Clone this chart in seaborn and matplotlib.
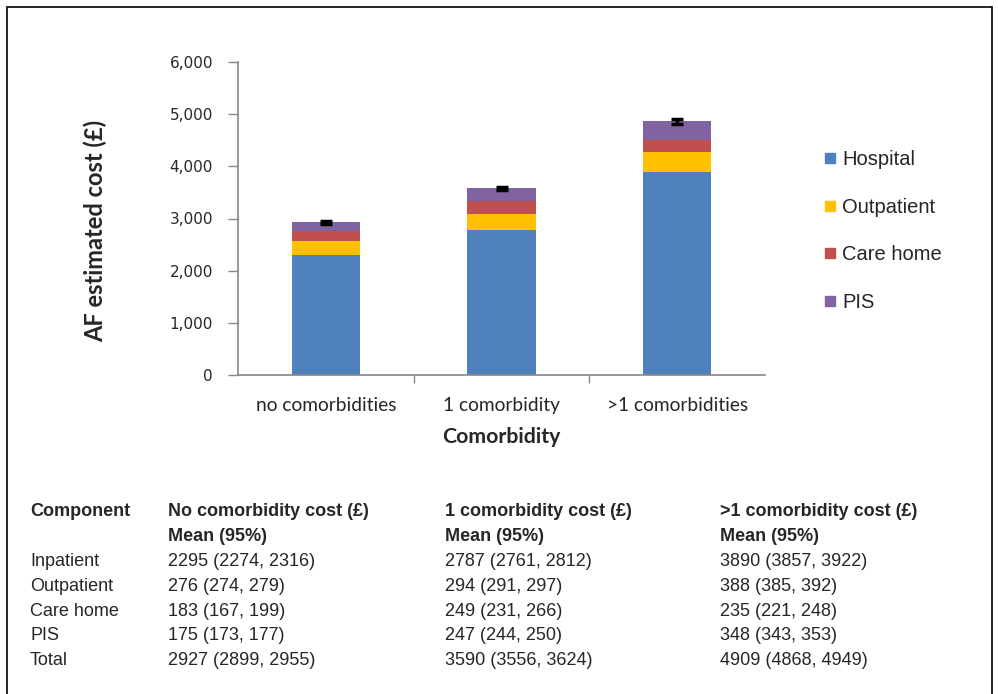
import matplotlib
matplotlib.use("Agg")
import matplotlib.pyplot as plt
from matplotlib.lines import Line2D
from matplotlib.patches import Rectangle
from matplotlib.ticker import FuncFormatter, FixedLocator
import seaborn as sns
import pandas as pd
import numpy as np

# Mean cost per component (GBP) by comorbidity group
categories = ["no comorbidities", "1 comorbidity", ">1 comorbidities"]
components = ["Hospital", "Outpatient", "Care home", "PIS"]
hospital = [2295, 2787, 3890]
outpatient = [276, 294, 388]
care_home = [183, 249, 235]
pis = [175, 247, 348]
total_mean = [2927, 3590, 4909]
total_low = [2899, 3556, 4868]
total_high = [2955, 3624, 4949]

colors = ["#4F81BD", "#FFC000", "#C0504D", "#8064A2"]

# Table contents
table_header = ["Component", "No comorbidity cost (£)", "1 comorbidity cost (£)", ">1 comorbidity cost (£)"]
table_sub = ["", "Mean (95%)", "Mean (95%)", "Mean (95%)"]
table_rows = [
    ["Inpatient", "2295 (2274, 2316)", "2787 (2761, 2812)", "3890 (3857, 3922)"],
    ["Outpatient", "276 (274, 279)", "294 (291, 297)", "388 (385, 392)"],
    ["Care home", "183 (167, 199)", "249 (231, 266)", "235 (221, 248)"],
    ["PIS", "175 (173, 177)", "247 (244, 250)", "348 (343, 353)"],
    ["Total", "2927 (2899, 2955)", "3590 (3556, 3624)", "4909 (4868, 4949)"],
]

sns.set_theme(style="white")
plt.rcParams["font.family"] = ["Liberation Sans", "DejaVu Sans"]
CAT_FONT = ["Lato", "DejaVu Sans"]
NUM_FONT = ["DejaVu Sans"]

W, H = 998, 694
fig = plt.figure(figsize=(W / 100, H / 100), dpi=100)
ax = fig.add_axes([238 / W, 1 - 375 / H, (765 - 238) / W, (375 - 62) / H])

layers = [hospital, outpatient, care_home, pis]
cum = np.cumsum(np.array(layers), axis=0)
df = pd.DataFrame({"cat": categories})
# draw cumulative stacks from the top layer down so each shows its own band
for i in range(len(layers) - 1, -1, -1):
    df["v"] = cum[i]
    sns.barplot(data=df, x="cat", y="v", color=colors[i], width=0.39,
                linewidth=0, saturation=1, ax=ax)

# error bars at the top of each stack, using the total confidence interval
tops = cum[-1]
yerr = np.array([[m - lo for m, lo in zip(total_mean, total_low)],
                 [hi - m for m, hi in zip(total_mean, total_high)]])
ax.errorbar(np.arange(len(categories)), tops, yerr=yerr, fmt="none",
            ecolor="black", elinewidth=2.5, capsize=4, capthick=2.5, zorder=5)

ax.set_xlim(-0.5, 2.5)
ax.set_ylim(0, 6000)
ax.set_yticks(np.arange(0, 6001, 1000))
ax.yaxis.set_major_formatter(FuncFormatter(lambda v, p: f"{int(v):,}"))
ax.tick_params(axis="y", which="major", left=True, length=7, width=1,
               color="#888888", pad=11)
for t in ax.get_yticklabels():
    t.set_fontfamily(NUM_FONT)
    t.set_fontsize(11)
ax.tick_params(axis="x", which="major", bottom=False, pad=10)
for t in ax.get_xticklabels():
    t.set_fontfamily(CAT_FONT)
    t.set_fontsize(13.8)
ax.xaxis.set_minor_locator(FixedLocator([0.5, 1.5]))
ax.tick_params(axis="x", which="minor", bottom=True, length=6, width=1, color="#888888")
for side in ["top", "right"]:
    ax.spines[side].set_visible(False)
for side in ["left", "bottom"]:
    ax.spines[side].set_color("#888888")
    ax.spines[side].set_linewidth(1.2)

ax.set_xlabel("Comorbidity", fontsize=15.3, fontweight="bold", family=CAT_FONT, labelpad=9)
ax.set_ylabel("AF estimated cost (£)", fontsize=17, fontweight="bold", family=CAT_FONT, labelpad=0)
ax.yaxis.set_label_coords(107 / W, 1 - 231 / H, transform=fig.transFigure)

handles = [Line2D([0], [0], marker="s", linestyle="none", markersize=7,
                  markerfacecolor=c, markeredgecolor=c) for c in colors]
fig.legend(handles, components, loc="upper left", bbox_to_anchor=(822 / W, 1 - 150 / H),
           frameon=False, fontsize=14.5, labelspacing=1.42, handletextpad=0.2,
           handlelength=0.8, borderaxespad=0, borderpad=0)

# cost table below the chart
col_x = [30, 168, 445, 720]
y0 = 512
dy = 24.8
for j, txt in enumerate(table_header):
    fig.text(col_x[j] / W, 1 - y0 / H, txt, fontsize=13, fontweight="bold", va="center")
for j, txt in enumerate(table_sub):
    if txt:
        fig.text(col_x[j] / W, 1 - (y0 + dy) / H, txt, fontsize=13, fontweight="bold", va="center")
for r, row in enumerate(table_rows):
    for j, txt in enumerate(row):
        fig.text(col_x[j] / W, 1 - (y0 + dy * (r + 2)) / H, txt, fontsize=13, va="center")

# outer frame
fig.patches.append(Rectangle((7 / W, -0.05), (992 - 7) / W, 1.05 - 7 / H,
                             transform=fig.transFigure, fill=False,
                             edgecolor="black", linewidth=1.2))

fig.savefig("out.png", dpi=100)
